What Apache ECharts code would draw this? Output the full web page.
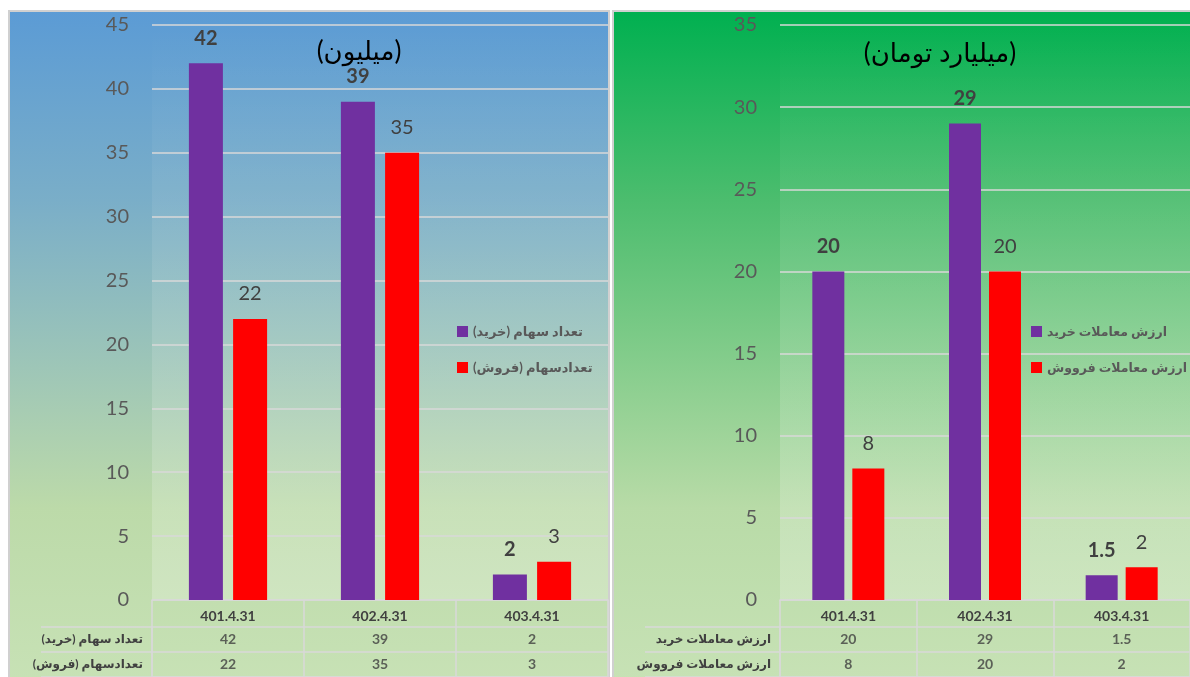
<!DOCTYPE html>
<html><head><meta charset="utf-8">
<script src="https://cdn.jsdelivr.net/npm/echarts@6/dist/echarts.min.js"></script>
<style>html,body{margin:0;padding:0;background:#fff}#c{width:1190px;height:677px}</style>
</head><body><div id="c"></div>
<script>
const categories = ['401.4.31', '402.4.31', '403.4.31'];
const leftTitle = '(میلیون)';
const leftBuyName = 'تعداد سهام (خرید)';
const leftSellName = 'تعدادسهام (فروش)';
const leftBuy = [42, 39, 2];
const leftSell = [22, 35, 3];
const rightTitle = '(میلیارد تومان)';
const rightBuyName = 'ارزش معاملات خرید';
const rightSellName = 'ارزش معاملات فرووش';
const rightBuy = [20, 29, 1.5];
const rightSell = [8, 20, 2];

const FF = "Lato, 'DejaVu Sans', sans-serif";
const GRID = '#d9d9d9';
const chart = echarts.init(document.getElementById('c'));

function lg(stops){ return new echarts.graphic.LinearGradient(0,0,0,1, stops.map((c,i)=>({offset:c[0], color:c[1]}))); }
const overlay = lg([[0,'rgba(255,255,255,0)'],[1,'rgba(255,255,255,0.22)']]);

function tableData(buy, sell, buyName, sellName){
  const d = [];
  categories.forEach((c,i)=>{ d.push([c, buyName, buy[i]]); d.push([c, sellName, sell[i]]); });
  return d;
}

function mainX(gi){
  return {gridIndex: gi, type:'category', data: categories,
    axisLine:{show:true, lineStyle:{color:GRID, width:1.5}},
    axisTick:{show:true, length:27, lineStyle:{color:GRID, width:1.5}},
    axisLabel:{color:'#404040', fontSize:14, fontWeight:'bold', fontFamily:FF, margin:9}};
}
function tableX(gi){
  return {gridIndex: gi, type:'category', data: categories,
    axisLine:{show:true, lineStyle:{color:GRID, width:1.5}},
    axisTick:{show:false}, axisLabel:{show:false},
    splitLine:{show:true, lineStyle:{color:GRID, width:1.5}}};
}
function mainY(gi, max){
  return {gridIndex: gi, type:'value', min:0, max:max, interval:5,
    axisLine:{show:false}, axisTick:{show:false},
    axisLabel:{color:'#595959', fontSize:20, fontFamily:FF, margin:23},
    splitLine:{show:true, lineStyle:{color:GRID, width:1.5}}};
}
function tableY(gi, names, tick){
  return {gridIndex: gi, type:'category', data: names, inverse:true,
    axisLine:{show:true, lineStyle:{color:GRID, width:1.5}},
    axisTick:{show:true, length:tick, lineStyle:{color:GRID, width:1.5}},
    axisLabel:{color:'#404040', fontSize:12, fontWeight:'bold', fontFamily:FF, margin:9},
    splitLine:{show:true, lineStyle:{color:GRID, width:1.5}}};
}
function barLabel(bold){
  return {show:true, position:'top', distance:15, color:'#404040', fontSize:20,
    fontWeight: bold ? 'bold' : 'normal', fontFamily:FF};
}
function tableSeries(name, xi, yi, data){
  return {name:name, type:'scatter', xAxisIndex:xi, yAxisIndex:yi, symbolSize:0, data:data,
    label:{show:true, position:'inside', formatter:p=>String(p.value[2]), color:'#404040',
      fontSize:14, fontWeight:'bold', fontFamily:FF}, silent:true};
}

chart.setOption({
  animation:false,
  graphic:[
    {type:'rect', z:-10, shape:{x:9, y:11, width:600, height:680},
     style:{fill: lg([[0,'#5b9bd5'],[0.28,'#7aaec8'],[0.73,'#bcdaa9'],[1,'#c8e2b6']]), stroke:'#d0d0d0', lineWidth:2}},
    {type:'rect', z:-10, shape:{x:613, y:11, width:590, height:680},
     style:{fill: lg([[0,'#00b050'],[0.28,'#4cbd6e'],[0.73,'#b8dba7'],[1,'#c8e2b6']]), stroke:'#d0d0d0', lineWidth:2}}
  ],
  title:[
    {text:leftTitle, left:354, top:34, textAlign:'center',
     textStyle:{color:'#000', fontSize:26, fontWeight:'normal', fontFamily:FF}},
    {text:rightTitle, left:935, top:36, textAlign:'center',
     textStyle:{color:'#000', fontSize:26, fontWeight:'normal', fontFamily:FF}}
  ],
  legend:[
    {data:[leftBuyName, leftSellName], orient:'vertical', left:452, top:320, itemGap:23,
     itemWidth:11, itemHeight:11, icon:'rect',
     textStyle:{color:'#595959', fontSize:13, fontWeight:'bold', fontFamily:FF}},
    {data:[rightBuyName, rightSellName], orient:'vertical', left:1026, top:320, itemGap:23,
     itemWidth:11, itemHeight:11, icon:'rect', itemGap:23,
     textStyle:{color:'#595959', fontSize:12.5, fontWeight:'bold', fontFamily:FF}}
  ],
  grid:[
    {left:152, top:25, width:456, height:575, show:true, borderWidth:0, backgroundColor:overlay},
    {left:152, top:627, width:456, height:56},
    {left:780, top:25, width:417, height:575, show:true, borderWidth:0, backgroundColor:overlay},
    {left:780, top:627, width:417, height:56}
  ],
  xAxis:[mainX(0), tableX(1), mainX(2), tableX(3)],
  yAxis:[mainY(0,45), tableY(1,[leftBuyName,leftSellName],111), mainY(2,35), tableY(3,[rightBuyName,rightSellName],135)],
  series:[
    {name:leftBuyName, type:'bar', xAxisIndex:0, yAxisIndex:0, data:leftBuy, barWidth:34, barGap:'30%',
     itemStyle:{color:'#7030a0'}, label:barLabel(true)},
    {name:leftSellName, type:'bar', xAxisIndex:0, yAxisIndex:0, data:leftSell, barWidth:34, barGap:'30%',
     itemStyle:{color:'#ff0000'}, label:barLabel(false)},
    {name:rightBuyName, type:'bar', xAxisIndex:2, yAxisIndex:2, data:rightBuy, barWidth:32, barGap:'25%',
     itemStyle:{color:'#7030a0'}, label:barLabel(true)},
    {name:rightSellName, type:'bar', xAxisIndex:2, yAxisIndex:2, data:rightSell, barWidth:32, barGap:'25%',
     itemStyle:{color:'#ff0000'}, label:barLabel(false)},
    tableSeries('tableLeft', 1, 1, tableData(leftBuy, leftSell, leftBuyName, leftSellName)),
    tableSeries('tableRight', 3, 3, tableData(rightBuy, rightSell, rightBuyName, rightSellName))
  ]
});
</script></body></html>
